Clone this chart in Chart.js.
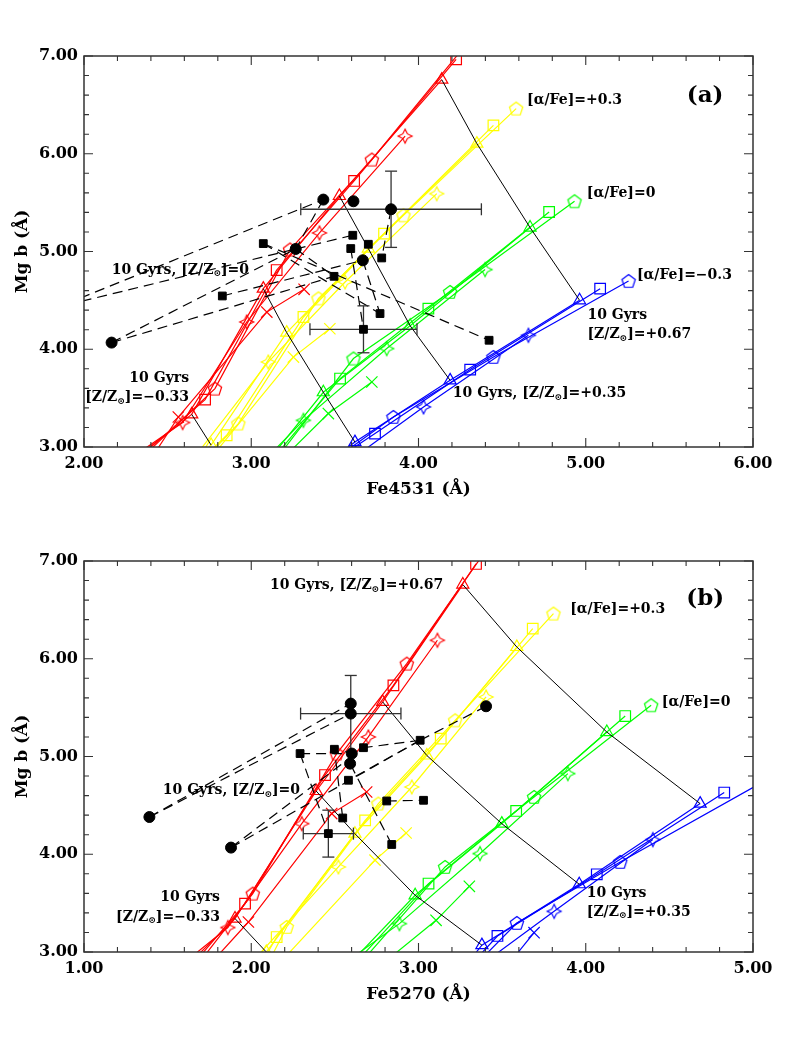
<!DOCTYPE html>
<html>
<head>
<meta charset="utf-8">
<script src="https://cdn.jsdelivr.net/npm/chart.js@4.4.1/dist/chart.umd.min.js"></script>
<style>
body { margin: 0; background: #fff; }
.panel { position: absolute; left: 0; width: 795px; height: 505px; }
</style>
</head>
<body>
<div class="panel" style="top:0"><canvas id="chartA"></canvas></div>
<div class="panel" style="top:505px"><canvas id="chartB"></canvas></div>
<script>
// colours of the four [alpha/Fe] families
var RED = "#ff0000", YEL = "#ffff00", GRN = "#00ff00", BLU = "#0000ff";
var SERIF = "'DejaVu Serif', serif";

// ---------- panel (a): Mg b vs Fe4531 ----------
// model lines, points go from low metallicity upward (first point is where the line leaves the frame)
var aRedCross = [[2.39,2.85],[2.564,3.307],[3.093,4.38],[3.316,4.613]];
var aRedStar  = [[2.25,2.85],[2.59,3.25],[2.973,4.279],[3.408,5.19],[3.92,6.18]];
var aRedTri   = [[2.28,2.85],[2.644,3.334],[3.072,4.62],[3.527,5.568],[4.139,6.758]];
var aRedSq    = [[2.30,2.85],[2.724,3.485],[3.152,4.81],[3.615,5.722],[4.225,6.966]];
var aRedPent  = [[2.32,2.85],[2.783,3.597],[3.232,5.02],[3.721,5.94],[4.30,7.15]];

var aYelCross = [[2.74,2.85],[3.252,3.92],[3.47,4.21]];
var aYelStar  = [[2.64,2.85],[3.102,3.87],[3.561,4.688],[4.109,5.592]];
var aYelTri   = [[2.66,2.85],[2.76,3.02],[3.212,4.17],[3.70,5.03],[4.349,6.104]];
var aYelSq    = [[2.69,2.85],[2.853,3.12],[3.312,4.33],[3.794,5.183],[4.448,6.29]];
var aYelPent  = [[2.71,2.85],[2.923,3.24],[3.402,4.52],[3.910,5.37],[4.584,6.462]];

var aGrnCross = [[3.20,2.9],[3.461,3.342],[3.721,3.665]];
var aGrnStar  = [[3.10,2.9],[3.312,3.273],[3.810,4.007],[4.398,4.815]];
var aGrnTri   = [[3.12,2.9],null,[3.431,3.56],[3.95,4.24],[4.667,5.245]];
var aGrnSq    = [[3.14,2.9],[3.531,3.70],[4.059,4.416],[4.781,5.404]];
var aGrnPent  = [[3.16,2.9],[3.611,3.905],[4.189,4.586],[4.933,5.514]];

var aBluStar  = [[3.62,2.9],[4.03,3.41],[4.657,4.143]];
var aBluTri   = [[3.50,2.9],null,[3.62,3.05],[4.189,3.682],[4.963,4.501]];
var aBluSq    = [[3.53,2.9],[3.74,3.137],[4.309,3.792],[5.086,4.62]];
var aBluPent  = [[3.52,2.9],[3.85,3.307],[4.448,3.921],[5.256,4.698]];

// galaxies
var aCircles = [[3.431,5.531],[3.611,5.514],[3.836,5.432],[3.266,5.026],[3.667,4.910],[2.165,4.068]];
var aSquares = [[3.072,5.081],[2.827,4.545],[3.607,5.166],[3.595,5.030],[3.700,5.074],[3.780,4.934],
                [3.495,4.746],[3.770,4.365],[3.671,4.204],[4.422,4.092]];
var aErrors  = [[3.836,5.432,0.54,0.39],[3.671,4.204,0.32,0.24]];   // x, y, dx, dy
var aLinks   = [[[1.8,4.40],"c0"],[[1.8,4.413],"c3"],["c3","s2"],["c5","c3"],["c5","s6"],["s0","s7"],
                ["s0","s9"],["s3","s8"],["c4","s7"],["s1","c4"],["c3","s6"],["c2","s5"],["c0","c3"]];

// ---------- panel (b): Mg b vs Fe5270 ----------
var bRedCross = [[1.74,2.85],[1.983,3.307],[2.481,4.416],[2.69,4.637]];
var bRedStar  = [[1.57,2.85],[1.86,3.25],[2.302,4.313],[2.70,5.2],[3.113,6.189]];
var bRedTri   = [[1.61,2.85],[1.903,3.342],[2.388,4.647],[2.786,5.558],[3.265,6.759]];
var bRedSq    = [[1.64,2.85],[1.963,3.495],[2.441,4.81],[2.85,5.728],[3.344,6.97]];
var bRedPent  = [[1.67,2.85],[2.009,3.597],[2.511,5.03],[2.93,5.95],[3.42,7.15]];

var bYelCross = [[2.15,2.85],[2.74,3.94],[2.926,4.217]];
var bYelStar  = [[1.98,2.85],[2.521,3.87],[2.96,4.688],[3.404,5.609]];
var bYelTri   = [[2.01,2.85],[2.09,3.0],[2.62,4.21],[3.05,5.01],[3.588,6.12]];
var bYelSq    = [[2.05,2.85],[2.152,3.153],[2.681,4.347],[3.133,5.183],[3.683,6.308]];
var bYelPent  = [[2.09,2.85],[2.212,3.256],[2.76,4.518],[3.219,5.37],[3.807,6.462]];

var bGrnCross = [[2.80,2.9],[3.105,3.324],[3.304,3.672]];
var bGrnStar  = [[2.57,2.9],[2.886,3.29],[3.368,4.007],[3.893,4.825]];
var bGrnTri   = [[2.60,2.9],null,[2.98,3.58],[3.498,4.313],[4.126,5.25]];
var bGrnSq    = [[2.63,2.9],[3.06,3.7],[3.584,4.443],[4.236,5.414]];
var bGrnPent  = [[2.66,2.9],[3.159,3.87],[3.691,4.586],[4.391,5.524]];

var bBluCross = [[3.55,2.9],[3.691,3.198]];
var bBluStar  = [[3.40,2.9],[3.811,3.416],[4.401,4.15]];
var bBluTri   = [[3.30,2.9],null,[3.379,3.07],[3.961,3.693],[4.684,4.518]];
var bBluSq    = [[3.33,2.9],[3.472,3.164],[4.066,3.795],[4.828,4.631]];
var bBluPent  = [[3.36,2.9],[3.588,3.297],[4.206,3.921],[5.06,4.74]];

var bCircles = [[2.595,5.541],[2.595,5.439],[2.601,5.03],[2.591,4.927],[3.404,5.514],[1.391,4.381],[1.879,4.068]];
var bSquares = [[2.292,5.03],[2.497,5.074],[2.671,5.09],[2.581,4.757],[3.01,5.166],[2.81,4.545],
                [3.03,4.552],[2.547,4.371],[2.461,4.211],[2.84,4.10]];
var bErrors  = [[2.595,5.439,0.30,0.39],[2.461,4.211,0.15,0.24]];
var bLinks   = [["c5","c0"],["c5","c1"],["c6","s2"],["c6","s4"],["c4","s4"],["s4","s2"],["s4","s3"],
                ["s5","s6"],["s0","s8"],["s9","c3"],["s7","s1"],["s0","c2"]];

// text written inside each panel
var aNotes = [
  {x:5.714, y:6.59, text:"(a)", size:23, align:"center"},
  {x:4.649, y:6.547, text:"[α/Fe]=+0.3", size:14},
  {x:5.006, y:5.592, text:"[α/Fe]=0", size:14},
  {x:5.306, y:4.757, text:"[α/Fe]=−0.3", size:14},
  {x:5.01, y:4.347, text:"10 Gyrs", size:14},
  {x:5.01, y:4.153, text:"[Z/Z⊙]=+0.67", size:14},
  {x:4.205, y:3.546, text:"10 Gyrs, [Z/Z⊙]=+0.35", size:14},
  {x:2.166, y:4.81, text:"10 Gyrs, [Z/Z⊙]=0", size:14},
  {x:2.628, y:3.70, text:"10 Gyrs", size:14, align:"right"},
  {x:2.628, y:3.505, text:"[Z/Z⊙]=−0.33", size:14, align:"right"}
];
var bNotes = [
  {x:4.714, y:6.615, text:"(b)", size:23, align:"center"},
  {x:3.907, y:6.506, text:"[α/Fe]=+0.3", size:14},
  {x:4.455, y:5.558, text:"[α/Fe]=0", size:14},
  {x:2.112, y:6.751, text:"10 Gyrs, [Z/Z⊙]=+0.67", size:14},
  {x:4.006, y:3.603, text:"10 Gyrs", size:14},
  {x:4.006, y:3.409, text:"[Z/Z⊙]=+0.35", size:14},
  {x:1.471, y:4.654, text:"10 Gyrs, [Z/Z⊙]=0", size:14},
  {x:1.813, y:3.556, text:"10 Gyrs", size:14, align:"right"},
  {x:1.813, y:3.358, text:"[Z/Z⊙]=−0.33", size:14, align:"right"}
];

// hollow marker shapes that chart.js has no style for
function markerCanvas(kind, color) {
  var c = document.createElement("canvas");
  c.width = 18; c.height = 18;
  var g = c.getContext("2d");
  g.strokeStyle = color; g.lineWidth = 1.2;
  g.beginPath();
  var i, a, r;
  if (kind == "pent") {
    for (i = 0; i < 5; i++) {
      a = -Math.PI / 2 + i * 2 * Math.PI / 5;
      if (i == 0) g.moveTo(9 + 7 * Math.cos(a), 9.6 + 7 * Math.sin(a));
      else g.lineTo(9 + 7 * Math.cos(a), 9.6 + 7 * Math.sin(a));
    }
  } else {
    for (i = 0; i < 8; i++) {
      a = -Math.PI / 2 + i * Math.PI / 4;
      r = (i % 2 == 0) ? 7 : 3.3;
      if (i == 0) g.moveTo(9 + r * Math.cos(a), 9 + r * Math.sin(a));
      else g.lineTo(9 + r * Math.cos(a), 9 + r * Math.sin(a));
    }
  }
  g.closePath();
  g.stroke();
  return c;
}

function toPts(list) {
  var out = [];
  for (var i = 0; i < list.length; i++) {
    if (list[i]) out.push({x: list[i][0], y: list[i][1]});
  }
  return out;
}

function modelLine(list, color, kind) {
  var style, size = 7;
  if (kind == "cross") { style = "crossRot"; size = 8; }
  else if (kind == "tri") { style = "triangle"; size = 7; }
  else if (kind == "sq") { style = "rect"; size = 7.5; }
  else style = markerCanvas(kind, color);
  return {
    data: toPts(list), showLine: true, borderColor: color, borderWidth: 1.2,
    pointStyle: style, pointBorderColor: color, pointBackgroundColor: "rgba(0,0,0,0)",
    pointBorderWidth: 1.2, order: 5,
    pointRadius: function(c) { var p = c.raw; return (p && p.y >= 2.98 && p.y <= 7.02) ? size : 0; }
  };
}

function tenGyrLines(tris) {
  var sets = [];
  for (var k = 1; k <= 4; k++) {
    var pts = [];
    for (var j = 0; j < tris.length; j++) if (tris[j][k]) pts.push(tris[j][k]);
    sets.push({data: toPts(pts), showLine: true, borderColor: "#000", borderWidth: 1, pointRadius: 0, order: 3});
  }
  return sets;
}

function galaxySets(circles, squares, errors, links) {
  var sets = [];
  sets.push({data: toPts(circles), pointStyle: "circle", pointRadius: 5.5, backgroundColor: "#000", borderColor: "#000", order: 0});
  sets.push({data: toPts(squares), pointStyle: "rect", pointRadius: 5.5, backgroundColor: "#000", borderColor: "#000", order: 0});
  errors.forEach(function(e) {
    sets.push({data: [{x: e[0] - e[2], y: e[1]}, {x: e[0] + e[2], y: e[1]}], showLine: true, borderColor: "#333",
               borderWidth: 1.3, pointStyle: "line", rotation: 90, pointRadius: 6, pointBorderColor: "#333", order: 1});
    sets.push({data: [{x: e[0], y: e[1] - e[3]}, {x: e[0], y: e[1] + e[3]}], showLine: true, borderColor: "#333",
               borderWidth: 1.3, pointStyle: "line", rotation: 0, pointRadius: 6, pointBorderColor: "#333", order: 1});
  });
  function pick(ref) {
    if (typeof ref != "string") return ref;
    return ref[0] == "c" ? circles[+ref.slice(1)] : squares[+ref.slice(1)];
  }
  links.forEach(function(l) {
    sets.push({data: toPts([pick(l[0]), pick(l[1])]), showLine: true, borderColor: "#000", borderWidth: 1.2,
               borderDash: [10, 6], pointRadius: 0, order: 2});
  });
  return sets;
}

function drawNote(ctx, chart, n) {
  var x = chart.scales.x.getPixelForValue(n.x), y = chart.scales.y.getPixelForValue(n.y);
  var big = "bold " + n.size + "px " + SERIF, small = "bold 9px " + SERIF;
  var parts = n.text.split("⊙");
  var w = 0, i;
  ctx.font = big;
  for (i = 0; i < parts.length; i++) w += ctx.measureText(parts[i]).width;
  ctx.font = small;
  var sw = ctx.measureText("⊙").width;
  w += sw * (parts.length - 1);
  var sx = n.align == "right" ? x - w : (n.align == "center" ? x - w / 2 : x);
  ctx.textBaseline = "middle"; ctx.textAlign = "left"; ctx.fillStyle = "#000";
  for (i = 0; i < parts.length; i++) {
    ctx.font = big;
    ctx.fillText(parts[i], sx, y);
    sx += ctx.measureText(parts[i]).width;
    if (i < parts.length - 1) {
      ctx.font = small;
      ctx.fillText("⊙", sx, y + 4);
      sx += sw;
    }
  }
}

function frameAndNotes(notes) {
  return {
    id: "frame",
    afterDraw: function(chart) {
      var ctx = chart.ctx, a = chart.chartArea, xs = chart.scales.x, ys = chart.scales.y;
      ctx.save();
      ctx.strokeStyle = "#333";
      ctx.lineWidth = 1.5;
      ctx.strokeRect(a.left, a.top, a.right - a.left, a.bottom - a.top);
      ctx.lineWidth = 1.1;
      ctx.beginPath();
      var i, p, len;
      for (i = 0; i <= 20; i++) {
        p = xs.getPixelForValue(xs.min + i * 0.2);
        len = (i % 5 == 0) ? 9 : 5;
        ctx.moveTo(p, a.bottom); ctx.lineTo(p, a.bottom - len);
        ctx.moveTo(p, a.top); ctx.lineTo(p, a.top + len);
      }
      for (i = 0; i <= 20; i++) {
        p = ys.getPixelForValue(ys.min + i * 0.2);
        len = (i % 5 == 0) ? 9 : 5;
        ctx.moveTo(a.left, p); ctx.lineTo(a.left + len, p);
        ctx.moveTo(a.right, p); ctx.lineTo(a.right - len, p);
      }
      ctx.stroke();
      notes.forEach(function(n) { drawNote(ctx, chart, n); });
      ctx.restore();
    }
  };
}

function buildChart(id, datasets, xMin, xMax, xTitle, notes) {
  var tickFont = {family: SERIF, size: 16, weight: "bold"};
  var titleFont = {family: SERIF, size: 17, weight: "bold"};
  return new Chart(document.getElementById(id), {
    type: "scatter",
    data: {datasets: datasets},
    options: {
      responsive: true, maintainAspectRatio: false, animation: false,
      layout: {padding: {left: 0, top: 56, right: 42, bottom: 0}},
      plugins: {legend: {display: false}, tooltip: {enabled: false}},
      scales: {
        x: {
          type: "linear", min: xMin, max: xMax,
          afterFit: function(s) { s.height = 58; },
          grid: {display: false, drawTicks: false}, border: {display: false},
          ticks: {stepSize: 1, padding: 7, color: "#000", font: tickFont, maxRotation: 0, autoSkip: false,
                  callback: function(v) { return v.toFixed(2); }},
          title: {display: true, text: xTitle, color: "#000", font: titleFont, padding: {top: 0, bottom: 5}}
        },
        y: {
          type: "linear", min: 3, max: 7,
          afterFit: function(s) { s.width = 84; },
          grid: {display: false, drawTicks: false}, border: {display: false},
          ticks: {stepSize: 1, padding: 6, color: "#000", font: tickFont,
                  callback: function(v) { return v.toFixed(2); }},
          title: {display: true, text: "Mg b (Å)", color: "#000", font: titleFont, padding: {top: 12, bottom: 0}}
        }
      }
    },
    plugins: [frameAndNotes(notes)]
  });
}

var aSets = galaxySets(aCircles, aSquares, aErrors, aLinks)
  .concat(tenGyrLines([aRedTri, aYelTri, aGrnTri, aBluTri]))
  .concat([
    modelLine(aRedCross, RED, "cross"), modelLine(aRedStar, RED, "star"), modelLine(aRedTri, RED, "tri"),
    modelLine(aRedSq, RED, "sq"), modelLine(aRedPent, RED, "pent"),
    modelLine(aYelCross, YEL, "cross"), modelLine(aYelStar, YEL, "star"), modelLine(aYelTri, YEL, "tri"),
    modelLine(aYelSq, YEL, "sq"), modelLine(aYelPent, YEL, "pent"),
    modelLine(aGrnCross, GRN, "cross"), modelLine(aGrnStar, GRN, "star"), modelLine(aGrnTri, GRN, "tri"),
    modelLine(aGrnSq, GRN, "sq"), modelLine(aGrnPent, GRN, "pent"),
    modelLine(aBluStar, BLU, "star"), modelLine(aBluTri, BLU, "tri"),
    modelLine(aBluSq, BLU, "sq"), modelLine(aBluPent, BLU, "pent")
  ]);

var bSets = galaxySets(bCircles, bSquares, bErrors, bLinks)
  .concat(tenGyrLines([bRedTri, bYelTri, bGrnTri, bBluTri]))
  .concat([
    modelLine(bRedCross, RED, "cross"), modelLine(bRedStar, RED, "star"), modelLine(bRedTri, RED, "tri"),
    modelLine(bRedSq, RED, "sq"), modelLine(bRedPent, RED, "pent"),
    modelLine(bYelCross, YEL, "cross"), modelLine(bYelStar, YEL, "star"), modelLine(bYelTri, YEL, "tri"),
    modelLine(bYelSq, YEL, "sq"), modelLine(bYelPent, YEL, "pent"),
    modelLine(bGrnCross, GRN, "cross"), modelLine(bGrnStar, GRN, "star"), modelLine(bGrnTri, GRN, "tri"),
    modelLine(bGrnSq, GRN, "sq"), modelLine(bGrnPent, GRN, "pent"),
    modelLine(bBluCross, BLU, "cross"), modelLine(bBluStar, BLU, "star"), modelLine(bBluTri, BLU, "tri"),
    modelLine(bBluSq, BLU, "sq"), modelLine(bBluPent, BLU, "pent")
  ]);

buildChart("chartA", aSets, 2, 6, "Fe4531 (Å)", aNotes);
buildChart("chartB", bSets, 1, 5, "Fe5270 (Å)", bNotes);
</script>
</body>
</html>
